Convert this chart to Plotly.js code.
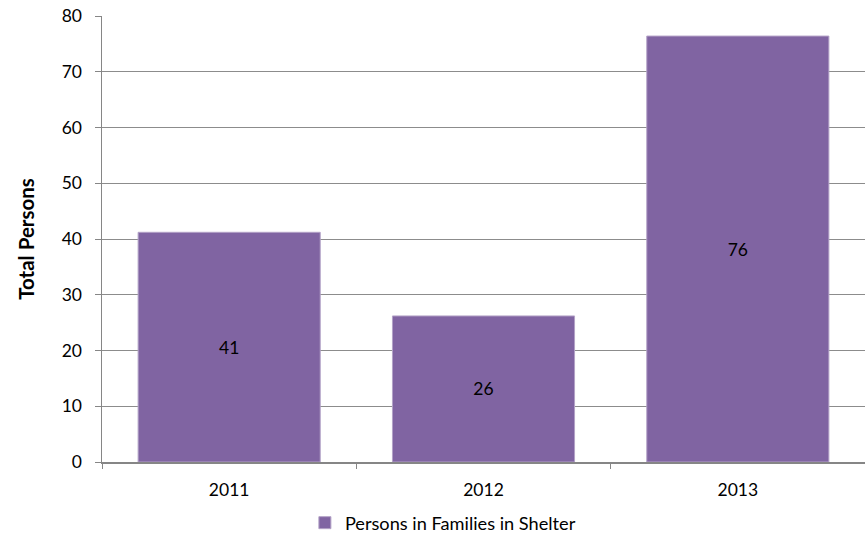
<!DOCTYPE html>
<html><head><meta charset="utf-8">
<script src="https://cdn.plot.ly/plotly-3.0.1.min.js"></script>
<style>html,body{margin:0;padding:0;background:#fff}#c{width:865px;height:539px}</style>
</head><body><div id="c"></div>
<script>
const categories = ["2011", "2012", "2013"];
const values = [41.2, 26.2, 76.4];
const labels = ["41", "26", "76"];
const seriesName = "Persons in Families in Shelter";
const yTicks = [0, 10, 20, 30, 40, 50, 60, 70, 80];

const font = "Lato, 'Open Sans', sans-serif";
const fs = 17.5;
const trace = {
  type: "bar", x: categories, y: values, name: seriesName,
  text: labels, textposition: "inside", insidetextanchor: "middle",
  textfont: {family: font, size: fs, color: "#000"},
  marker: {color: "#8064A2", line: {color: "#B3A2C7", width: 1}},
  showlegend: true, hoverinfo: "none"
};
const layout = {
  width: 865, height: 539,
  margin: {l: 102, r: 0, t: 16, b: 77},
  paper_bgcolor: "#fff", plot_bgcolor: "#fff",
  font: {family: font, size: fs, color: "#000"},
  bargap: 0.284,
  xaxis: {
    type: "category", showgrid: false, showline: true, linecolor: "#868686", linewidth: 1.5,
    ticks: "outside", tickson: "boundaries", ticklen: 5, tickcolor: "#868686",
    ticklabelstandoff: 11, tickfont: {family: font, size: fs}
  },
  yaxis: {
    range: [0, 80], tickvals: yTicks, showgrid: true, gridcolor: "#8c8c8c", gridwidth: 1,
    showline: true, linecolor: "#868686", linewidth: 1.5, zeroline: false,
    ticks: "outside", ticklen: 6, tickcolor: "#868686", ticklabelstandoff: 9,
    tickfont: {family: font, size: fs},
    title: {text: "<b>Total Persons</b>", font: {family: font, size: 20.5}, standoff: 21}
  },
  legend: {
    orientation: "h", xref: "container", yref: "container",
    x: 0.512, xanchor: "center", y: 0.03, yanchor: "middle",
    font: {family: font, size: 18.2}, itemwidth: 30
  }
};
Plotly.newPlot("c", [trace], layout, {displayModeBar: false, staticPlot: true});
</script></body></html>
